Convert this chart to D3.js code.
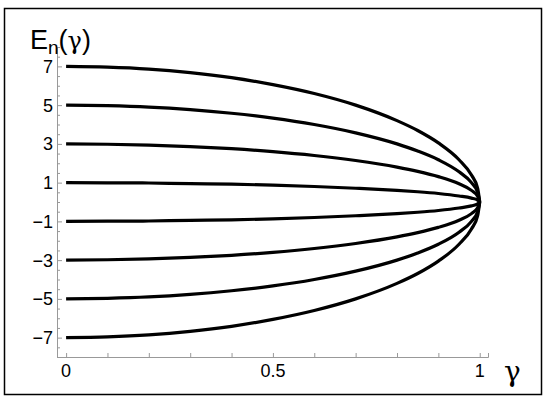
<!DOCTYPE html>
<html>
<head>
<meta charset="utf-8">
<script src="https://cdn.jsdelivr.net/npm/d3@7"></script>
<style>
  body { margin: 0; background: #fff; }
  text { font-family: "Liberation Sans", Arial, sans-serif; }
  .greek { font-family: "DejaVu Serif", "Liberation Serif", serif; }
</style>
</head>
<body>
<div id="chart"></div>
<script>
//////////////////////////////////////////////////////////////
///////////////////////// Data ///////////////////////////////
//////////////////////////////////////////////////////////////

var gammaVals = [0, 0.1, 0.2, 0.3, 0.4, 0.5, 0.6, 0.7, 0.8, 0.85, 0.9, 0.95, 0.98, 0.995, 1];

// E_n(gamma), one list per level
var e7  = [7, 6.96, 6.86, 6.68, 6.42, 6.06, 5.6, 5.0, 4.2, 3.69, 3.05, 2.18, 1.39, 0.7, 0];
var e5  = [5, 4.97, 4.9, 4.77, 4.58, 4.33, 4.0, 3.57, 3.0, 2.63, 2.18, 1.56, 1.0, 0.5, 0];
var e3  = [3, 2.98, 2.94, 2.86, 2.75, 2.6, 2.4, 2.14, 1.8, 1.58, 1.31, 0.94, 0.6, 0.3, 0];
var e1  = [1, 0.99, 0.98, 0.95, 0.92, 0.87, 0.8, 0.71, 0.6, 0.53, 0.44, 0.31, 0.2, 0.1, 0];
var em1 = [-1, -0.99, -0.98, -0.95, -0.92, -0.87, -0.8, -0.71, -0.6, -0.53, -0.44, -0.31, -0.2, -0.1, 0];
var em3 = [-3, -2.98, -2.94, -2.86, -2.75, -2.6, -2.4, -2.14, -1.8, -1.58, -1.31, -0.94, -0.6, -0.3, 0];
var em5 = [-5, -4.97, -4.9, -4.77, -4.58, -4.33, -4.0, -3.57, -3.0, -2.63, -2.18, -1.56, -1.0, -0.5, 0];
var em7 = [-7, -6.96, -6.86, -6.68, -6.42, -6.06, -5.6, -5.0, -4.2, -3.69, -3.05, -2.18, -1.39, -0.7, 0];

var seriesList = [e7, e5, e3, e1, em1, em3, em5, em7];

var xTickLabels = [0, 0.5, 1];
var yTickLabels = [-7, -5, -3, -1, 1, 3, 5, 7];

//////////////////////////////////////////////////////////////
/////////////////////// Settings /////////////////////////////
//////////////////////////////////////////////////////////////

var width = 550, height = 400;
var plotLeft = 57, plotRight = 488, plotTop = 47, plotBottom = 357;
var axisColor = "#999";

var svg = d3.select("#chart").append("svg")
    .attr("width", width)
    .attr("height", height);

//Outer frame
svg.append("rect")
    .attr("x", 4.5)
    .attr("y", 8.5)
    .attr("width", 537)
    .attr("height", 386)
    .attr("fill", "none")
    .attr("stroke", "black")
    .attr("stroke-width", 1.5);

//////////////////////////////////////////////////////////////
///////////////////// Scales & Axes //////////////////////////
//////////////////////////////////////////////////////////////

var xScale = d3.scaleLinear().domain([-0.022, 1.02]).range([plotLeft, plotRight]);
var yScale = d3.scaleLinear().domain([-8, 8]).range([plotBottom, plotTop]);

// minor ticks (inside the frame)
var xMinor = d3.range(0, 1.001, 0.1);
var yMinor = d3.range(-8, 8.001, 0.5);

//x axis
var gx = svg.append("g")
    .attr("transform", "translate(0," + plotBottom + ")")
    .call(d3.axisBottom(xScale).tickValues(xMinor).tickSize(-4).tickFormat(""));
gx.selectAll("path, line").attr("stroke", axisColor);

svg.append("g")
    .selectAll("text")
    .data(xTickLabels).enter()
    .append("text")
        .attr("x", function(d) { return xScale(d); })
        .attr("y", plotBottom + 20)
        .attr("text-anchor", "middle")
        .style("font-size", "18px")
        .text(function(d) { return d; });

//y axis
var gy = svg.append("g")
    .attr("transform", "translate(" + plotLeft + ",0)")
    .call(d3.axisLeft(yScale).tickValues(yMinor).tickSize(-3).tickFormat(""));
gy.selectAll("path, line").attr("stroke", axisColor);
gy.selectAll(".tick line")
    .filter(function(d) { return yTickLabels.indexOf(d) >= 0; })
    .attr("x2", 5);

svg.append("g")
    .selectAll("text")
    .data(yTickLabels).enter()
    .append("text")
        .attr("x", plotLeft - 4)
        .attr("y", function(d) { return yScale(d); })
        .attr("dy", "0.36em")
        .attr("text-anchor", "end")
        .style("font-size", "18px")
        .text(function(d) { return d < 0 ? "\u2212" + (-d) : d; });

//axis titles
var yTitle = svg.append("text")
    .attr("x", 30)
    .attr("y", 49)
    .style("font-size", "27px");
yTitle.append("tspan").text("E");
yTitle.append("tspan").attr("dy", 5).style("font-size", "19px").text("n");
yTitle.append("tspan").attr("dy", -5).text("(");
yTitle.append("tspan").attr("class", "greek").style("font-size", "24px").text("\u03b3");
yTitle.append("tspan").text(")");

svg.append("text")
    .attr("class", "greek")
    .attr("x", 504)
    .attr("y", 381)
    .style("font-size", "28px")
    .text("\u03b3");

//////////////////////////////////////////////////////////////
/////////////////////// Curves ///////////////////////////////
//////////////////////////////////////////////////////////////

var line = d3.line()
    .x(function(d, i) { return xScale(gammaVals[i]); })
    .y(function(d) { return yScale(d); })
    .curve(d3.curveMonotoneX);

svg.append("g")
    .selectAll("path")
    .data(seriesList).enter()
    .append("path")
        .attr("d", line)
        .attr("fill", "none")
        .attr("stroke", "black")
        .attr("stroke-width", 3.2);
</script>
</body>
</html>
